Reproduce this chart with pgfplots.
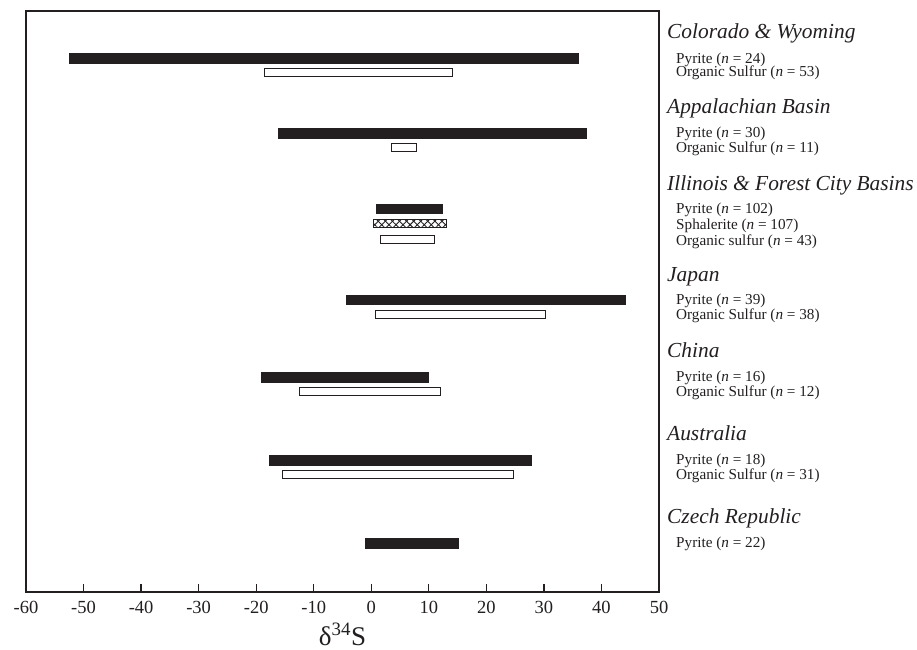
\documentclass[border=0pt]{standalone}
\usepackage{fontspec}
\setmainfont{Liberation Serif}
\usepackage{pgfplots}
\pgfplotsset{compat=1.18}
\usetikzlibrary{patterns.meta}
\definecolor{ink}{HTML}{231F20}
\newcommand{\ttl}{\fontsize{21.4}{21.4}\selectfont\itshape}
\newcommand{\sub}{\fontsize{15.2}{15.2}\selectfont}
\begin{document}
\begin{tikzpicture}
\useasboundingbox (0,0) rectangle (917pt,649pt);
\begin{axis}[at={(26pt,57pt)}, anchor=south west, scale only axis,
  width=633pt, height=581pt,
  xmin=-60, xmax=50, ymin=0, ymax=581,
  xtick={-60,-50,...,50}, ytick=\empty,
  xtick pos=bottom, tick align=inside, major tick length=8pt,
  axis line style={line width=1.3pt, draw=ink},
  every tick/.style={line width=1.3pt, draw=ink},
  /pgf/number format/assume math mode=true,
  xticklabel style={font=\fontsize{18.5}{18.5}\selectfont, anchor=base, text=ink},
  xticklabel shift=21pt,
  clip=false]
% filled bars (Pyrite)
\addplot[fill=ink, draw=ink, line width=0.4pt] coordinates {(-52.5,528.7)(36.0,528.7)(36.0,538.7)(-52.5,538.7)} --cycle;
\addplot[fill=ink, draw=ink, line width=0.4pt] coordinates {(-16.1,453.7)(37.4,453.7)(37.4,463.7)(-16.1,463.7)} --cycle;
\addplot[fill=ink, draw=ink, line width=0.4pt] coordinates {(0.9,379.3)(12.3,379.3)(12.3,388.3)(0.9,388.3)} --cycle;
\addplot[fill=ink, draw=ink, line width=0.4pt] coordinates {(-4.3,287.7)(44.1,287.7)(44.1,297.0)(-4.3,297.0)} --cycle;
\addplot[fill=ink, draw=ink, line width=0.4pt] coordinates {(-19.1,210.3)(9.9,210.3)(9.9,219.7)(-19.1,219.7)} --cycle;
\addplot[fill=ink, draw=ink, line width=0.4pt] coordinates {(-17.7,127.3)(27.8,127.3)(27.8,136.7)(-17.7,136.7)} --cycle;
\addplot[fill=ink, draw=ink, line width=0.4pt] coordinates {(-1.0,44.0)(15.1,44.0)(15.1,53.7)(-1.0,53.7)} --cycle;
% open bars (Organic sulfur)
\addplot[fill=white, draw=ink, line width=1pt] coordinates {(-18.6,515.2)(14.2,515.2)(14.2,523.2)(-18.6,523.2)} --cycle;
\addplot[fill=white, draw=ink, line width=1pt] coordinates {(3.6,440.2)(7.9,440.2)(7.9,448.2)(3.6,448.2)} --cycle;
\addplot[fill=white, draw=ink, line width=1pt] coordinates {(1.6,348.2)(10.9,348.2)(10.9,356.5)(1.6,356.5)} --cycle;
\addplot[fill=white, draw=ink, line width=1pt] coordinates {(0.8,273.8)(30.3,273.8)(30.3,281.8)(0.8,281.8)} --cycle;
\addplot[fill=white, draw=ink, line width=1pt] coordinates {(-12.5,196.8)(12.0,196.8)(12.0,204.8)(-12.5,204.8)} --cycle;
\addplot[fill=white, draw=ink, line width=1pt] coordinates {(-15.4,113.5)(24.8,113.5)(24.8,121.5)(-15.4,121.5)} --cycle;
% hatched bar (Sphalerite)
\addplot[draw=none, pattern={Lines[angle=45,distance=5pt,line width=0.9pt]}, pattern color=ink] coordinates {(0.45,364.2)(13.1,364.2)(13.1,372.8)(0.45,372.8)} --cycle;
\addplot[draw=ink, line width=1pt, pattern={Lines[angle=-45,distance=5pt,line width=0.9pt]}, pattern color=ink] coordinates {(0.45,364.2)(13.1,364.2)(13.1,372.8)(0.45,372.8)} --cycle;
% labels
\begin{scope}[every node/.style={anchor=base west, inner sep=0pt, text=ink}]
\node[font=\ttl, xshift=8pt] at (axis cs:50,553) {Colorado \& Wyoming};
\node[font=\sub, xshift=17pt] at (axis cs:50,528.7) {Pyrite (\textit{n} = 24)};
\node[font=\sub, xshift=17pt] at (axis cs:50,515) {Organic Sulfur (\textit{n} = 53)};
\node[font=\ttl, xshift=8pt] at (axis cs:50,478.7) {Appalachian Basin};
\node[font=\sub, xshift=17pt] at (axis cs:50,454.3) {Pyrite (\textit{n} = 30)};
\node[font=\sub, xshift=17pt] at (axis cs:50,439.7) {Organic Sulfur (\textit{n} = 11)};
\node[font=\ttl, xshift=8pt] at (axis cs:50,402) {Illinois \& Forest City Basins};
\node[font=\sub, xshift=17pt] at (axis cs:50,378.7) {Pyrite (\textit{n} = 102)};
\node[font=\sub, xshift=17pt] at (axis cs:50,362.7) {Sphalerite (\textit{n} = 107)};
\node[font=\sub, xshift=17pt] at (axis cs:50,347) {Organic sulfur (\textit{n} = 43)};
\node[font=\ttl, xshift=8pt] at (axis cs:50,311) {Japan};
\node[font=\sub, xshift=17pt] at (axis cs:50,287.7) {Pyrite (\textit{n} = 39)};
\node[font=\sub, xshift=17pt] at (axis cs:50,272.7) {Organic Sulfur (\textit{n} = 38)};
\node[font=\ttl, xshift=8pt] at (axis cs:50,234.3) {China};
\node[font=\sub, xshift=17pt] at (axis cs:50,211) {Pyrite (\textit{n} = 16)};
\node[font=\sub, xshift=17pt] at (axis cs:50,196) {Organic Sulfur (\textit{n} = 12)};
\node[font=\ttl, xshift=8pt] at (axis cs:50,151.3) {Australia};
\node[font=\sub, xshift=17pt] at (axis cs:50,128) {Pyrite (\textit{n} = 18)};
\node[font=\sub, xshift=17pt] at (axis cs:50,112.7) {Organic Sulfur (\textit{n} = 31)};
\node[font=\ttl, xshift=8pt] at (axis cs:50,68.7) {Czech Republic};
\node[font=\sub, xshift=17pt] at (axis cs:50,44.3) {Pyrite (\textit{n} = 22)};
\end{scope}
\node[anchor=base, inner sep=0pt, text=ink, font=\fontsize{27}{27}\selectfont] at (axis cs:-5,-53) {δ\textsuperscript{34}S};
\end{axis}
\end{tikzpicture}
\end{document}
